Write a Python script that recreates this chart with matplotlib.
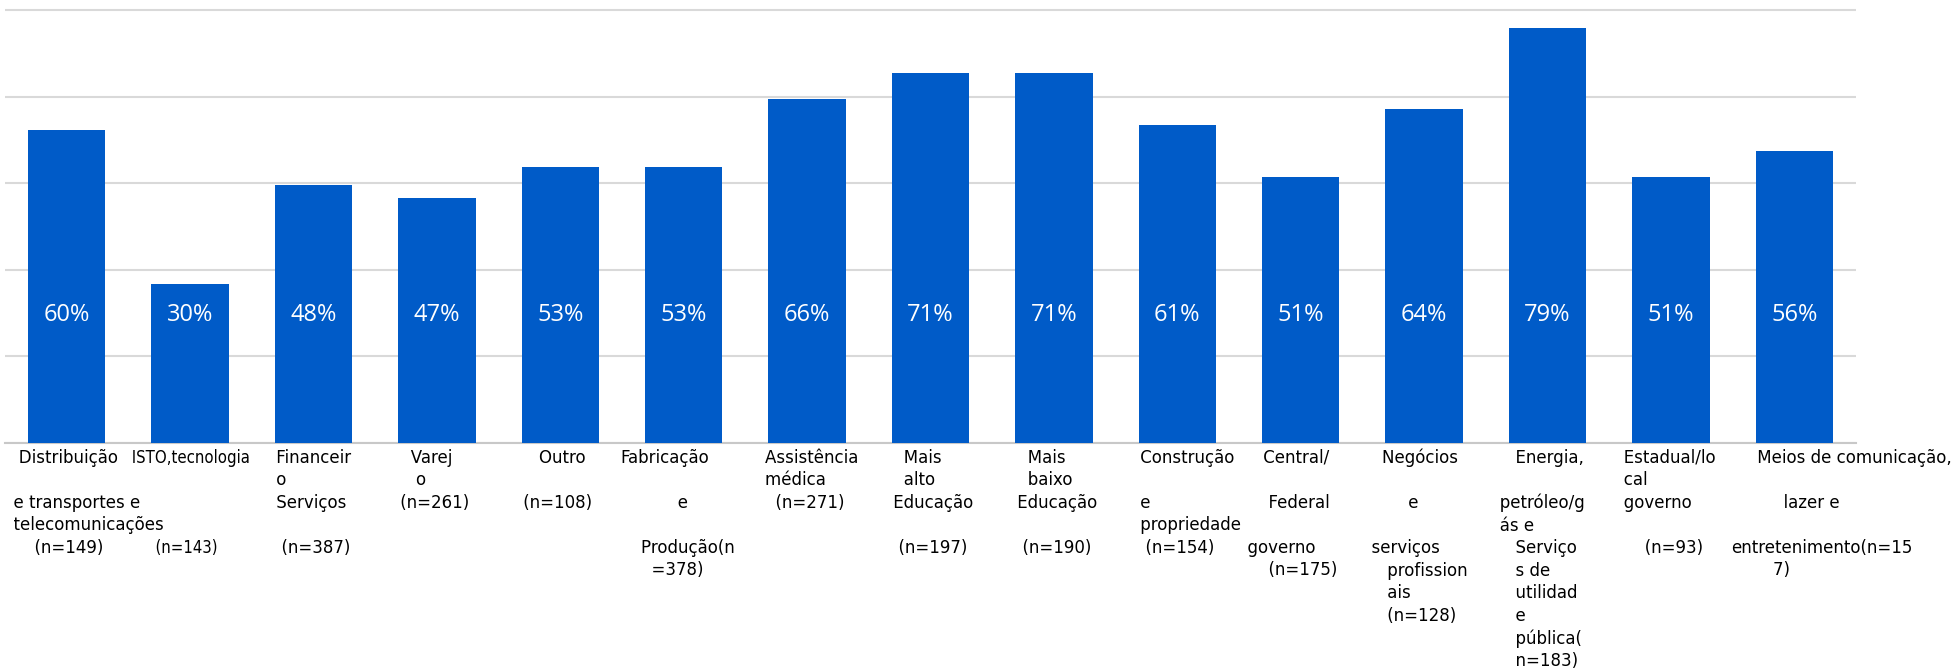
import numpy as np
import matplotlib
matplotlib.use('Agg')
import matplotlib.pyplot as plt
import matplotlib.transforms as mtransforms


# bar heights as drawn (the 48% bar is drawn a bit taller in the original)
values = [60, 30.4, 49.5, 47, 53, 53, 66, 71, 71, 61, 51, 64, 79.5, 51, 56]
value_labels = ['60%', '30%', '48%', '47%', '53%', '53%', '66%', '71%', '71%',
                '61%', '51%', '64%', '79%', '51%', '56%']

# category labels, kept with the odd wrapping / spacing of the original
categories = [
    '   Distribuição\n\n  e transportes e\n  telecomunicações\n      (n=149)',
    ' ISTO,tecnologia\n\n\n\n      (n=143)',
    '     Financeir\n     o\n     Serviços\n\n      (n=387)',
    '       Varej\n        o\n     (n=261)',
    '        Outro\n\n     (n=108)',
    'Fabricação\n\n           e\n\n    Produção(n\n      =378)',
    '    Assistência\n    médica\n      (n=271)',
    '       Mais\n       alto\n     Educação\n\n      (n=197)',
    '       Mais\n       baixo\n     Educação\n\n      (n=190)',
    '     Construção\n\n     e\n     propriedade\n      (n=154)',
    '     Central/\n\n      Federal\n\n  governo\n      (n=175)',
    '    Negócios\n\n         e\n\n  serviços\n     profission\n     ais\n     (n=128)',
    '      Energia,\n\n   petróleo/g\n   ás e\n      Serviço\n      s de\n      utilidad\n      e\n      pública(\n      n=183)',
    '   Estadual/lo\n   cal\n   governo\n\n       (n=93)',
    '     Meios de comunicação,\n\n          lazer e\n\nentretenimento(n=15\n        7)',
]

bar_color = '#005BC8'
grid_color = '#D9D9D9'

fig = plt.figure(figsize=(19.56, 6.68), dpi=100)
ax = fig.add_axes([0.0026, 0.3368, 0.9463, 0.6518])

x = np.arange(len(values))
bar_w = 0.627
ax.bar(x, values, width=bar_w, color=bar_color, zorder=3)

ax.set_xlim(-0.5, len(values) - 0.5)
ax.set_ylim(0, 83.5)
ax.set_yticks(np.linspace(0, 83, 6))
ax.yaxis.grid(True, color=grid_color, linewidth=1.5, zorder=0)
ax.set_xticks([])
ax.tick_params(left=False, labelleft=False, bottom=False)
for s in ['top', 'right', 'left']:
    ax.spines[s].set_visible(False)
ax.spines['bottom'].set_color('#C8C8C8')
ax.spines['bottom'].set_linewidth(1.5)

# value labels inside bars
for xi, lab in zip(x, value_labels):
    ax.text(xi, 24.5, lab, ha='center', va='center', color='white',
            fontsize=17, family=['Open Sans', 'DejaVu Sans'], zorder=4)

# category labels under the bars
trans = mtransforms.blended_transform_factory(ax.transData, ax.transAxes)
for xi, lab in zip(x, categories):
    stretch = 'condensed' if lab.startswith(' ISTO') else 'normal'
    ax.text(xi - bar_w / 2 - 0.2, -0.013, lab, transform=trans, ha='left', va='top',
            multialignment='left', fontsize=12, linespacing=1.32,
            family='DejaVu Sans', fontstretch=stretch, color='#000000', clip_on=False)

fig.savefig('out.png', dpi=100)
